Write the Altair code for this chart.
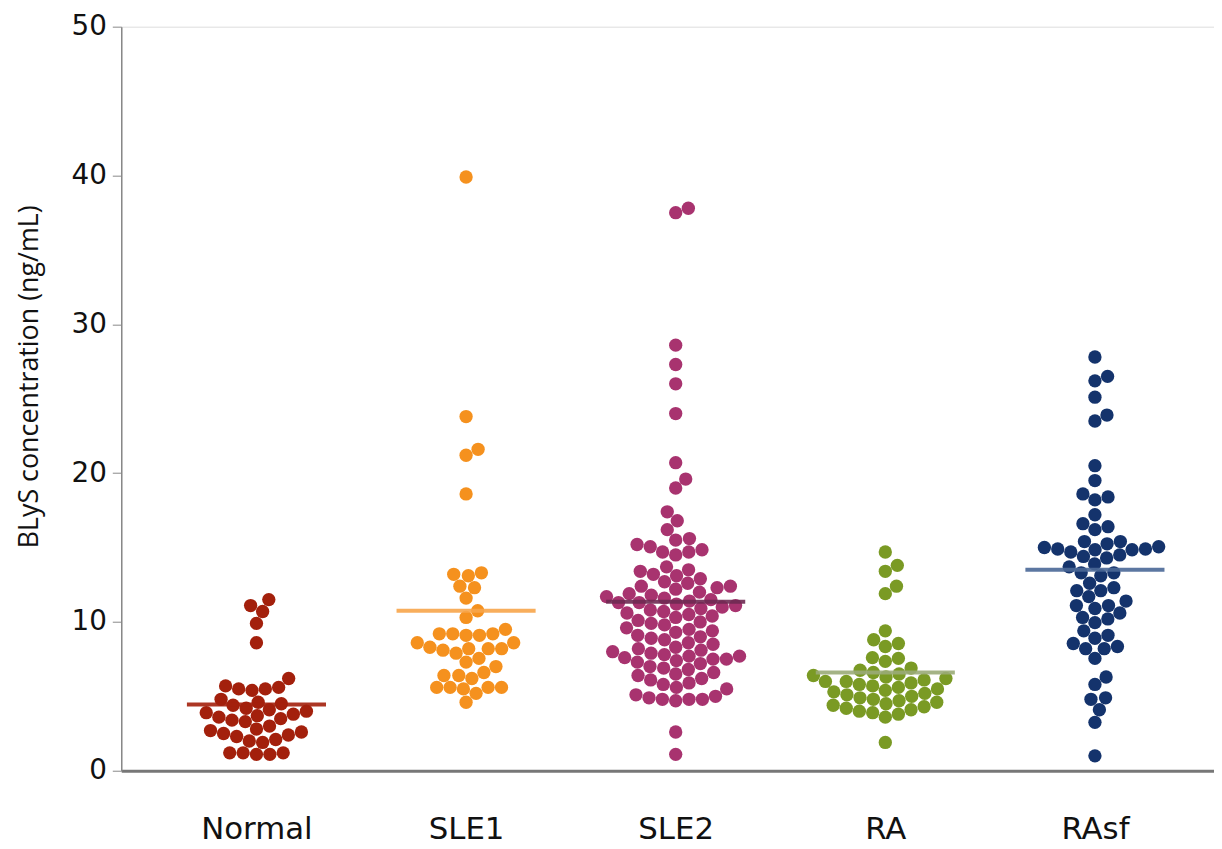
import altair as alt
import pandas as pd

groups = ["Normal", "SLE1", "SLE2", "RA", "RAsf"]
dot_colors = ["#a3200c", "#f5911e", "#a8336f", "#7a9a24", "#14336c"]
line_colors = ["#a3200c", "#f7a54a", "#6e2a52", "#9aab78", "#4a6897"]
center_lines = [4.45, 10.75, 11.35, 6.6, 13.5]

normal = [11.5, 11.1, 10.7, 9.9, 8.6, 6.2, 5.7, 5.6, 5.5, 5.5, 5.4, 4.8, 4.6, 4.5,
          4.4, 4.2, 4.1, 4.0, 3.9, 3.8, 3.7, 3.6, 3.5, 3.4, 3.3, 3.0, 2.8, 2.7, 2.6,
          2.5, 2.4, 2.3, 2.1, 2.0, 1.9, 1.2, 1.2, 1.1, 1.1, 1.2]
sle1 = [39.9, 23.8, 21.6, 21.2, 18.6, 13.3, 13.2, 13.1, 12.4, 12.3, 11.6, 10.75,
        10.3, 9.5, 9.2, 9.2, 9.1, 9.1, 9.2, 8.6, 8.6, 8.3, 8.2, 8.2, 8.1, 8.2, 7.9,
        7.55, 7.3, 7.0, 6.6, 6.4, 6.4, 6.2, 5.6, 5.6, 5.6, 5.5, 5.6, 5.2, 4.6]
sle2 = [37.8, 37.5, 28.6, 27.3, 26.0, 24.0, 20.7, 19.6, 19.0, 17.4, 16.8, 16.2,
        15.6, 15.5, 15.2, 15.05, 14.85, 14.7, 14.7, 14.5, 13.7, 13.5, 13.4, 13.2,
        13.1, 12.9, 12.7, 12.6, 12.4, 12.4, 12.3, 12.2, 12.0, 11.9, 11.8, 11.7,
        11.6, 11.5, 11.4, 11.3, 11.3, 11.2, 11.1, 11.0, 10.9, 10.8, 10.7, 10.6,
        10.5, 10.4, 10.3, 10.1, 10.0, 9.9, 9.8, 9.6, 9.5, 9.4, 9.3, 9.1, 9.0, 8.9,
        8.8, 8.6, 8.5, 8.3, 8.2, 8.1, 8.0, 7.9, 7.8, 7.7, 7.7, 7.6, 7.5, 7.5, 7.4,
        7.3, 7.2, 7.0, 6.9, 6.8, 6.6, 6.5, 6.4, 6.2, 6.1, 5.9, 5.8, 5.6, 5.5, 5.1,
        4.9, 4.8, 4.8, 4.7, 4.8, 5.0, 2.6, 1.1]
ra = [14.7, 13.8, 13.4, 12.4, 11.9, 9.4, 8.8, 8.55, 8.35, 7.6, 7.55, 7.35, 6.9,
      6.75, 6.6, 6.5, 6.4, 6.3, 6.2, 6.1, 6.0, 6.0, 5.9, 5.8, 5.7, 5.6, 5.5, 5.4,
      5.3, 5.2, 5.1, 5.0, 4.9, 4.8, 4.7, 4.6, 4.5, 4.4, 4.3, 4.2, 4.1, 4.0, 3.9,
      3.8, 3.6, 1.9]
rasf = [27.8, 26.5, 26.2, 25.1, 23.9, 23.5, 20.5, 19.5, 18.6, 18.4, 18.2, 17.2,
        16.6, 16.4, 16.2, 15.4, 15.4, 15.25, 15.05, 15.0, 14.9, 14.9, 14.85, 14.85,
        14.7, 14.5, 14.4, 14.3, 13.9, 13.7, 13.3, 13.3, 13.1, 12.6, 12.3, 12.1,
        12.1, 11.7, 11.4, 11.1, 11.1, 10.9, 10.6, 10.3, 10.2, 9.95, 9.4, 9.1, 8.9,
        8.55, 8.35, 8.2, 8.2, 7.55, 6.3, 5.8, 4.9, 4.8, 4.1, 3.25, 1.0]
series = [normal, sle1, sle2, ra, rasf]

# layout constants
PLOT_W, PLOT_H = 1100, 749
X0, X1 = -0.645, 4.568
PX_Y = PLOT_H / 50.0
PX_X = PLOT_W / (X1 - X0)
D = 13.5  # collision distance in px
HALF_LINE = 70 / PX_X


def swarm(vals):
    order = sorted(range(len(vals)), key=lambda i: vals[i])
    placed = []
    xs = [0.0] * len(vals)
    for i in order:
        y = vals[i] * PX_Y
        cands = [0.0]
        for px, py in placed:
            dy = abs(py - y)
            if dy < D:
                dx = (D * D - dy * dy) ** 0.5
                cands += [px + dx, px - dx]
        cands.sort(key=abs)
        for c in cands:
            if all((c - px) ** 2 + (y - py) ** 2 >= D * D - 1e-6 for px, py in placed):
                xs[i] = c
                placed.append((c, y))
                break
    return xs


rows = []
for gi, (g, vals) in enumerate(zip(groups, series)):
    offs = swarm(vals)
    for v, o in zip(vals, offs):
        rows.append({"group": g, "value": v, "xpos": gi + o / PX_X, "col": dot_colors[gi]})
df = pd.DataFrame(rows)

lines = pd.DataFrame({
    "group": groups,
    "value": center_lines,
    "x1": [i - HALF_LINE for i in range(len(groups))],
    "x2": [i + HALF_LINE for i in range(len(groups))],
    "col": line_colors,
})

label_expr = "[" + ",".join("'%s'" % g for g in groups) + "][datum.value]"

xaxis = alt.Axis(values=list(range(len(groups))), labelExpr=label_expr, ticks=False,
                 grid=False, title=None, domainColor="#777777", domainWidth=3,
                 labelFont="DejaVu Sans", labelFontSize=31, labelColor="#111111",
                 labelPadding=44)
yaxis = alt.Axis(values=[0, 10, 20, 30, 40, 50], grid=False,
                 title="BLyS concentration (ng/mL)", titleFont="Open Sans",
                 titleFontSize=27, titleFontWeight="normal", titleColor="#111111",
                 titleX=-92, titleY=352, titleBaseline="middle", titleAngle=-90,
                 domainColor="#888888", domainWidth=1.5, tickColor="#888888",
                 tickSize=9, labelFont="DejaVu Sans", labelFontSize=28,
                 labelColor="#111111", labelPadding=6)

xscale = alt.Scale(domain=[X0, X1], nice=False, zero=False)
yscale = alt.Scale(domain=[0, 50], nice=False)

points = alt.Chart(df).mark_circle(size=180, opacity=1).encode(
    x=alt.X("xpos:Q", scale=xscale, axis=xaxis),
    y=alt.Y("value:Q", scale=yscale, axis=yaxis),
    color=alt.Color("col:N", scale=None),
)

rules = alt.Chart(lines).mark_rule(strokeWidth=4, opacity=0.9).encode(
    x=alt.X("x1:Q", scale=xscale),
    x2="x2:Q",
    y=alt.Y("value:Q", scale=yscale),
    color=alt.Color("col:N", scale=None),
)

chart = alt.layer(points, rules).properties(
    width=PLOT_W, height=PLOT_H,
    autosize=alt.AutoSizeParams(type="none"),
    padding={"left": 114, "top": 16, "right": 0, "bottom": 76},
).configure_view(stroke=None).configure(background="white")

chart.save("out.html", embed_options={"renderer": "svg", "actions": False})
